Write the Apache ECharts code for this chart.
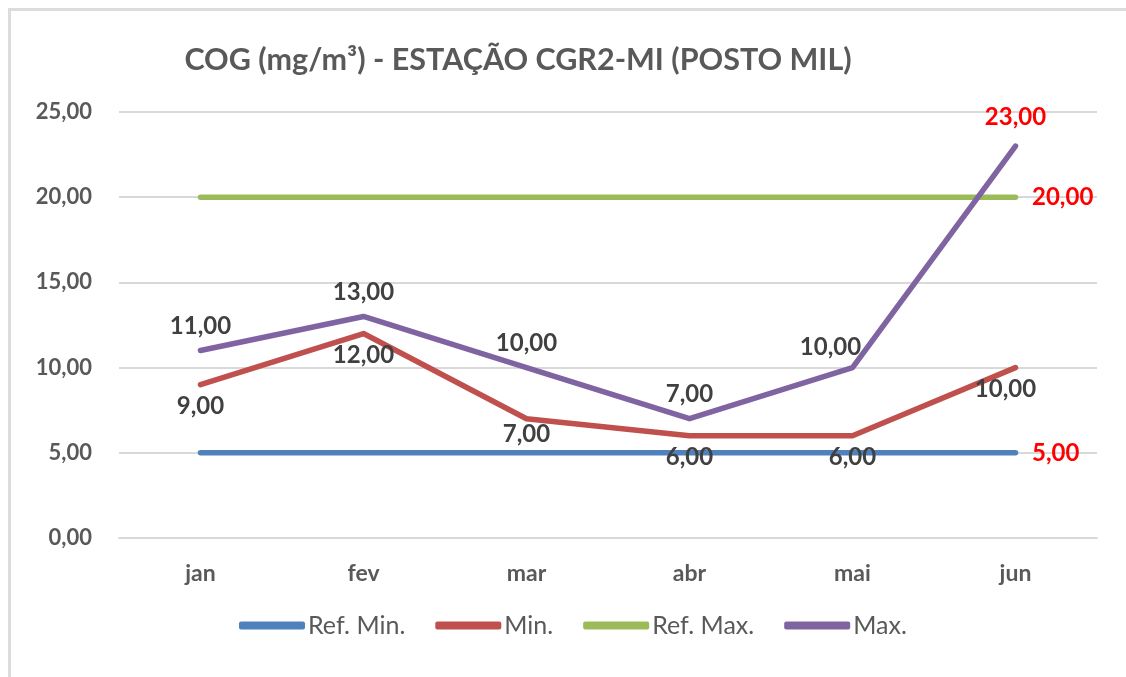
<!DOCTYPE html>
<html>
<head>
<meta charset="utf-8">
<script src="https://cdn.jsdelivr.net/npm/echarts@6/dist/echarts.min.js"></script>
<style>
  html, body { margin: 0; padding: 0; background: #fff; }
  #frame {
    position: absolute; left: 8px; top: 8px; width: 1130px; height: 680px;
    border-left: 3px solid #dcdcdc; border-top: 3px solid #dcdcdc;
  }
  #chart { position: absolute; left: 0; top: 0; width: 1126px; height: 677px; }
</style>
</head>
<body>
<div id="frame"></div>
<div id="chart"></div>
<script>
const months = ["jan", "fev", "mar", "abr", "mai", "jun"];
const refMin = [5, 5, 5, 5, 5, 5];
const minValues = [9, 12, 7, 6, 6, 10];
const refMax = [20, 20, 20, 20, 20, 20];
const maxValues = [11, 13, 10, 7, 10, 23];

const chart = echarts.init(document.getElementById("chart"));

// formato brasileiro: 10,00
const fmt = (v) => Number(v).toFixed(2).replace(".", ",");
const font = "Lato, 'Open Sans', sans-serif";

const labelStyle = {
  show: true,
  fontFamily: font,
  fontWeight: "bold",
  fontSize: 24,
  color: "#404040",
  formatter: (p) => fmt(p.value),
};

// rótulo só no último ponto das linhas de referência
const refData = (arr) =>
  arr.map((v, i) => ({
    value: v,
    label: { show: i === arr.length - 1 },
  }));

// ajustes de rótulo como no original (mai deslocado, jun em vermelho)
const maxData = maxValues.map((v, i) => {
  if (i === 4) return { value: v, label: { offset: [-22, 4] } };
  if (i === 5) return { value: v, label: { color: "#ff0000", offset: [0, -4] } };
  return v;
});
const minData = minValues.map((v, i) => {
  if (i === 2) return { value: v, label: { offset: [0, -6] } };
  if (i === 5) return { value: v, label: { offset: [-10, 0] } };
  return v;
});

const refLabel = {
  show: false,
  position: "right",
  distance: 16,
  fontFamily: font,
  fontWeight: "bold",
  fontSize: 24,
  color: "#ff0000",
  formatter: (p) => fmt(p.value),
};

const lineBase = {
  type: "line",
  symbol: "circle",
  symbolSize: 1,
  showSymbol: true,
  lineStyle: { width: 5.5, cap: "round", join: "round" },
};

const option = {
  animation: false,
  textStyle: { fontFamily: font },
  title: {
    text: "COG (mg/m³) - ESTAÇÃO CGR2-MI (POSTO MIL)",
    left: 513,
    top: 40,
    textAlign: "center",
    textStyle: { fontFamily: font, fontWeight: "bold", fontSize: 30.5, color: "#595959" },
  },
  legend: {
    data: ["Ref. Min.", "Min.", "Ref. Max.", "Max."],
    top: 608,
    left: 234,
    icon: "roundRect",
    itemWidth: 66,
    itemHeight: 8,
    itemGap: 30,
    textStyle: { fontFamily: font, fontSize: 25, color: "#595959", padding: [0, 0, 0, -2] },
  },
  grid: { left: 119, right: 29, top: 112, bottom: 139 },
  xAxis: {
    type: "category",
    data: months,
    boundaryGap: true,
    axisLine: { show: true, lineStyle: { color: "#d9d9d9", width: 2 } },
    axisTick: { show: false },
    axisLabel: { fontFamily: font, fontWeight: "bold", fontSize: 23, color: "#595959", margin: 24 },
  },
  yAxis: {
    type: "value",
    min: 0,
    max: 25,
    interval: 5,
    axisLine: { show: false },
    axisTick: { show: false },
    splitLine: { lineStyle: { color: "#d9d9d9", width: 2 } },
    axisLabel: {
      fontFamily: font,
      fontWeight: "bold",
      fontSize: 22,
      color: "#595959",
      margin: 27,
      formatter: (v) => fmt(v),
    },
  },
  series: [
    {
      ...lineBase,
      name: "Ref. Min.",
      data: refData(refMin),
      itemStyle: { color: "#4f81bd" },
      lineStyle: { ...lineBase.lineStyle, color: "#4f81bd" },
      label: refLabel,
    },
    {
      ...lineBase,
      name: "Min.",
      data: minData,
      itemStyle: { color: "#c0504d" },
      lineStyle: { ...lineBase.lineStyle, color: "#c0504d" },
      label: { ...labelStyle, position: "bottom", distance: 9 },
    },
    {
      ...lineBase,
      name: "Ref. Max.",
      data: refData(refMax),
      itemStyle: { color: "#9bbb59" },
      lineStyle: { ...lineBase.lineStyle, color: "#9bbb59" },
      label: refLabel,
    },
    {
      ...lineBase,
      name: "Max.",
      data: maxData,
      itemStyle: { color: "#8064a2" },
      lineStyle: { ...lineBase.lineStyle, color: "#8064a2" },
      label: { ...labelStyle, position: "top", distance: 12 },
    },
  ],
};

chart.setOption(option);
</script>
</body>
</html>
